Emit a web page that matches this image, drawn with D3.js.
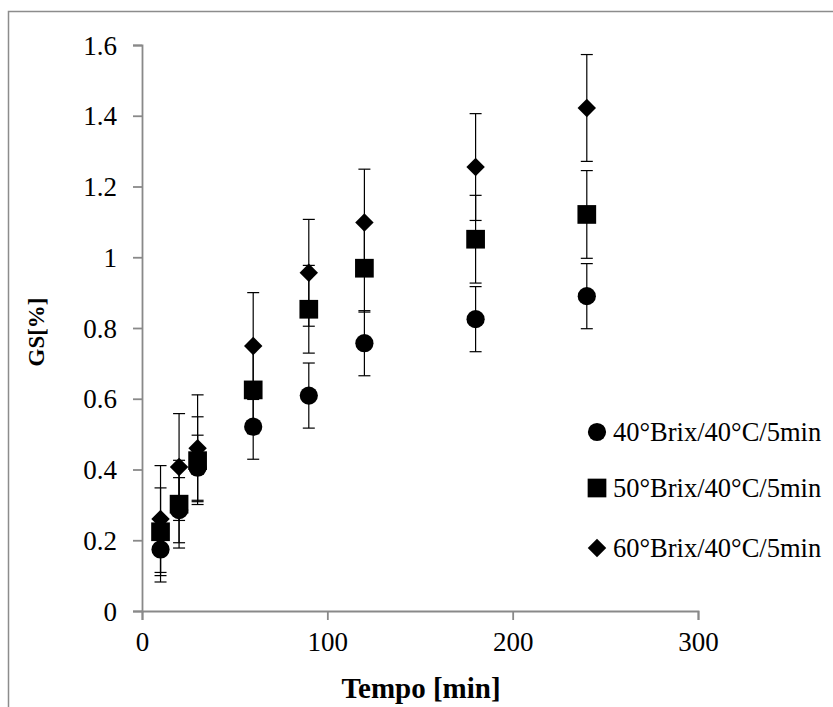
<!DOCTYPE html>
<html>
<head>
<meta charset="utf-8">
<script src="https://cdn.jsdelivr.net/npm/d3@7"></script>
<style>
    body { margin: 0; background: #fff; }
    #chart { width: 833px; height: 707px; }
    svg text { font-family: "Liberation Serif", "Times New Roman", serif !important; fill: #000; }
</style>
</head>
<body>
<div id="chart"></div>
<script>

// time points (min)
var tempo = [10, 20, 30, 60, 90, 120, 180, 240];

// GS [%] per series
var gs40 = [0.174, 0.285, 0.405, 0.521, 0.609, 0.757, 0.825, 0.890];
var gs50 = [0.224, 0.302, 0.425, 0.625, 0.853, 0.969, 1.051, 1.121];
var gs60 = [0.260, 0.407, 0.460, 0.749, 0.956, 1.098, 1.255, 1.422];

// error bar half-widths
var err40 = [0.092, 0.092, 0.092, 0.092, 0.092, 0.092, 0.092, 0.092];
var err50 = [0.124, 0.124, 0.124, 0.124, 0.124, 0.124, 0.124, 0.124];
var err60 = [0.151, 0.151, 0.151, 0.151, 0.151, 0.151, 0.151, 0.151];

var seriesNames = ["40°Brix/40°C/5min", "50°Brix/40°C/5min", "60°Brix/40°C/5min"];

var xTicks = [0, 100, 200, 300];
var yTicks = [0, 0.2, 0.4, 0.6, 0.8, 1, 1.2, 1.4, 1.6];

var width = 833;
var height = 707;

var svg = d3.select("#chart")
    .append("svg")
    .attr("width", width)
    .attr("height", height);

// outer frame (only left and top visible in the crop)
svg.append("path")
    .attr("d", "M8.5," + height + "V11.5H" + width)
    .attr("fill", "none")
    .attr("stroke", "#8c8c8c")
    .attr("stroke-width", 1.5);

var xScale = d3.scaleLinear()
    .domain([0, 300])
    .range([142, 698]);

var yScale = d3.scaleLinear()
    .domain([0, 1.6])
    .range([611, 45]);

var axisColor = "#898989";

var xAxis = svg.append("g")
    .attr("transform", "translate(0," + yScale(0) + ")")
    .call(d3.axisBottom(xScale).tickValues(xTicks).tickSize(9).tickPadding(12).tickFormat(d3.format("d")));

var yAxis = svg.append("g")
    .attr("transform", "translate(" + xScale(0) + ",0)")
    .call(d3.axisLeft(yScale).tickValues(yTicks).tickSize(9).tickPadding(16)
        .tickFormat(function(d) { return String(+d.toFixed(1)); }));

[xAxis, yAxis].forEach(function(ax) {
    ax.attr("font-family", null);
    ax.select(".domain").attr("stroke", axisColor).attr("stroke-width", 1.8);
    ax.selectAll(".tick line").attr("stroke", axisColor).attr("stroke-width", 1.8);
    ax.selectAll(".tick text")
        .style("font-size", "27px")
        .attr("fill", "#000");
});
yAxis.selectAll(".tick text").attr("dy", "0.34em");

svg.append("text")
    .attr("x", 421)
    .attr("y", 698)
    .attr("text-anchor", "middle")
    .style("font-size", "29px")
    .attr("font-weight", "bold")
    .text("Tempo [min]");

svg.append("text")
    .attr("transform", "translate(44,332) rotate(-90)")
    .attr("text-anchor", "middle")
    .style("font-size", "23px")
    .attr("font-weight", "bold")
    .text("GS[%]");

// marker shapes: circle, square, square rotated 45deg
var series = [
    { name: seriesNames[0], values: gs40, errs: err40, type: d3.symbolCircle, size: 260, rot: 0 },
    { name: seriesNames[1], values: gs50, errs: err50, type: d3.symbolSquare, size: 350, rot: 0 },
    { name: seriesNames[2], values: gs60, errs: err60, type: d3.symbolSquare, size: 170, rot: 45 }
];

var capHalf = 6;

series.forEach(function(s) {
    var pts = tempo.map(function(t, i) {
        return { t: t, v: s.values[i], e: s.errs[i] };
    });

    var eb = svg.append("g")
        .attr("stroke", "#000")
        .attr("stroke-width", 1.2);

    eb.selectAll("line.stem")
        .data(pts)
        .enter()
        .append("line")
            .attr("class", "stem")
            .attr("x1", function(d) { return xScale(d.t); })
            .attr("x2", function(d) { return xScale(d.t); })
            .attr("y1", function(d) { return yScale(d.v + d.e); })
            .attr("y2", function(d) { return yScale(d.v - d.e); });

    eb.selectAll("line.capTop")
        .data(pts)
        .enter()
        .append("line")
            .attr("class", "capTop")
            .attr("x1", function(d) { return xScale(d.t) - capHalf; })
            .attr("x2", function(d) { return xScale(d.t) + capHalf; })
            .attr("y1", function(d) { return yScale(d.v + d.e); })
            .attr("y2", function(d) { return yScale(d.v + d.e); });

    eb.selectAll("line.capBot")
        .data(pts)
        .enter()
        .append("line")
            .attr("class", "capBot")
            .attr("x1", function(d) { return xScale(d.t) - capHalf; })
            .attr("x2", function(d) { return xScale(d.t) + capHalf; })
            .attr("y1", function(d) { return yScale(d.v - d.e); })
            .attr("y2", function(d) { return yScale(d.v - d.e); });

    s.pts = pts;
});

series.forEach(function(s) {
    svg.append("g")
        .selectAll("path")
        .data(s.pts)
        .enter()
        .append("path")
            .attr("transform", function(d) {
                return "translate(" + xScale(d.t) + "," + yScale(d.v) + ") rotate(" + s.rot + ")";
            })
            .attr("d", d3.symbol().type(s.type).size(s.size))
            .attr("fill", "#000");
});

// legend
var legend = svg.append("g");
var legendY = [432, 488, 548];

series.forEach(function(s, i) {
    legend.append("path")
        .attr("transform", "translate(597," + legendY[i] + ") rotate(" + s.rot + ")")
        .attr("d", d3.symbol().type(s.type).size(s.size))
        .attr("fill", "#000");
    legend.append("text")
        .attr("x", 613)
        .attr("y", legendY[i])
        .attr("dy", "0.34em")
        .style("font-size", "26.5px")
        .text(s.name);
});

</script>
</body>
</html>
